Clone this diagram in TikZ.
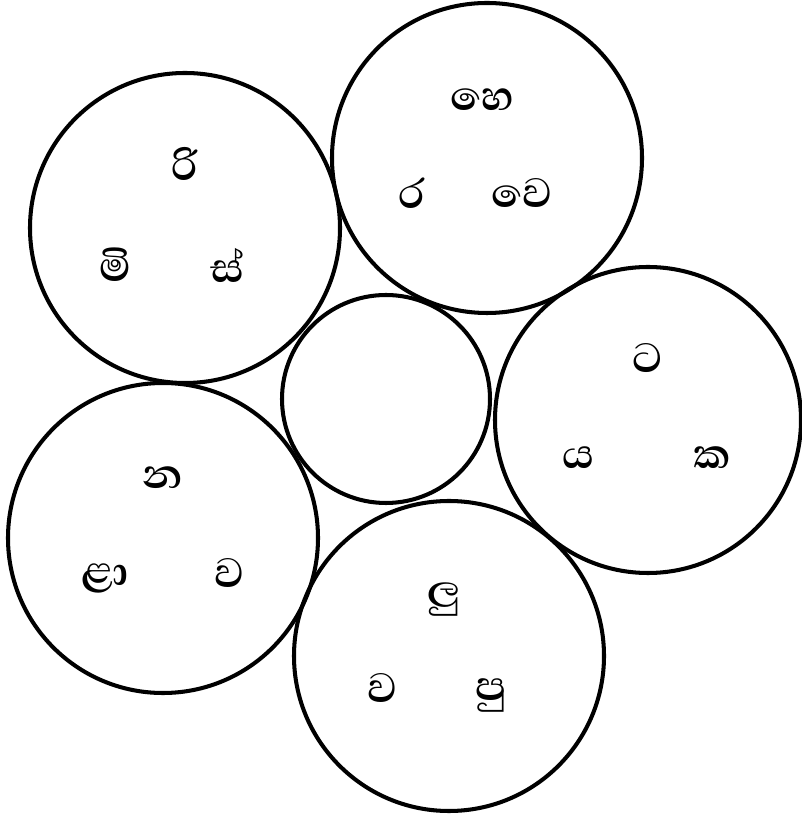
\documentclass[tikz,border=0pt]{standalone}
\usepackage{fontspec}
\newfontfamily\sinhalafont[Script=Sinhala]{Abhaya Libre}
\usetikzlibrary{positioning}

\begin{document}
\begin{tikzpicture}[line width=2.3pt]
  \useasboundingbox (0,0) rectangle (16.02,16.28);
  \tikzset{akura/.style={font=\sinhalafont\bfseries\fontsize{30}{34}\selectfont}}
  % outer circles
  \draw (3.70,11.72) circle (3.1);
  \draw (9.74,13.12) circle (3.1);
  \draw (12.96,7.88) circle (3.06);
  \draw (3.26,5.52) circle (3.1);
  \draw (8.98,3.16) circle (3.1);
  % middle (empty) circle
  \draw (7.72,8.30) circle (2.08);
  % letters
  \node[akura] (ri) at (3.70,13.0) {රි};
  \node[akura] (mi) at (2.30,10.98) {මි};
  \node[akura] (sa) at (4.56,10.98) {ස්};
  \node[akura] (he) at (9.64,14.28) {හෙ};
  \node[akura] (ra) at (8.24,12.42) {ර};
  \node[akura] (ve) at (10.44,12.42) {වෙ};
  \node[akura] (ta) at (12.96,9.12) {ට};
  \node[akura] (ya) at (11.56,7.12) {ය};
  \node[akura] (ka) at (14.24,7.12) {ක};
  \node[akura] (na) at (3.26,6.72) {න};
  \node[akura] (lla) at (2.10,4.72) {ළා};
  \node[akura] (va) at (4.60,4.82) {ව};
  \node[akura] (lu) at (8.88,4.28) {ලු};
  \node[akura] (vb) at (7.66,2.52) {ව};
  \node[akura] (pu) at (9.82,2.38) {පු};
\end{tikzpicture}
\end{document}
